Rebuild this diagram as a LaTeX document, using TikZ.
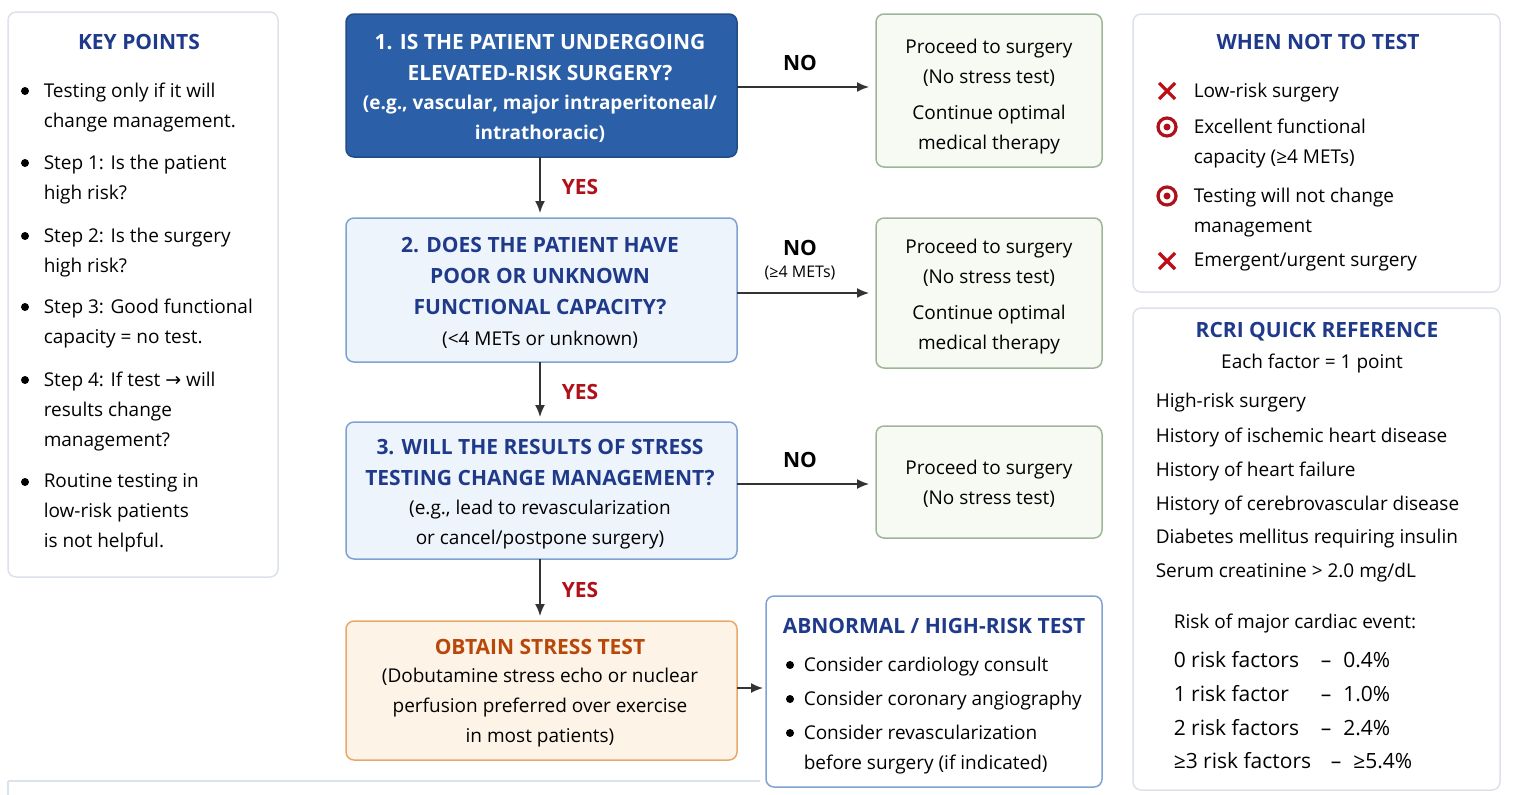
\documentclass[tikz,border=0pt]{standalone}
\usepackage{fontspec}
\setmainfont{Open Sans}
\newfontfamily\symfont{DejaVu Sans}
\usetikzlibrary{positioning,arrows.meta}
\definecolor{navy}{HTML}{1F3A8A}
\definecolor{darkblue}{HTML}{2B5FA8}
\definecolor{lightblue}{HTML}{EEF4FC}
\definecolor{blueline}{HTML}{7FA2D2}
\definecolor{greenfill}{HTML}{F6FAF3}
\definecolor{greenline}{HTML}{9FB59A}
\definecolor{orangefill}{HTML}{FDF3E6}
\definecolor{orangeline}{HTML}{E8A868}
\definecolor{orangetext}{HTML}{B8480A}
\definecolor{grayline}{HTML}{DCE2EA}
\definecolor{yesred}{HTML}{B0101A}
\tikzset{every picture/.style={line width=0.75pt}}
\tikzset{
  box/.style={draw, rounded corners=4pt, inner sep=0pt},
  qbox/.style={box, draw=blueline, fill=lightblue},
  gbox/.style={box, draw=greenline, fill=greenfill},
  side/.style={box, draw=grayline, fill=white},
  txt/.style={inner sep=0pt, align=center, font=\fontsize{9.5}{15}\selectfont},
  ltxt/.style={inner sep=0pt, align=left, anchor=west, font=\fontsize{9.5}{15}\selectfont},
  ttl/.style={inner sep=0pt, align=center, font=\fontsize{10.5}{15.5}\selectfont\bfseries},
  flow/.style={-{Latex[length=6pt,width=5pt]}, line width=0.8pt, draw=black!80},
  yes/.style={inner sep=0pt, text=yesred, font=\fontsize{10.5}{12}\selectfont\bfseries},
  no/.style={inner sep=0pt, font=\fontsize{10.5}{12}\selectfont\bfseries},
}
\begin{document}
\begin{tikzpicture}[x=0.5pt,y=-0.5pt]
\useasboundingbox (0,0) rectangle (1518,794);

% side panels
\draw [side] (8,12) rectangle (278,577);
\draw [side] (1133,14) rectangle (1500,292);
\draw [side] (1133,308) rectangle (1500,790);
\draw [side] (8,781) -- (8,800) (8,781) -- (760,781);

% flow boxes
\draw [box, draw=darkblue!80!black, fill=darkblue] (346,14) rectangle (737,157);
\draw [qbox] (346,218) rectangle (737,362);
\draw [qbox] (346,422) rectangle (737,559);
\draw [box, draw=orangeline, fill=orangefill] (346,621) rectangle (737,760);
\draw [box, draw=blueline, fill=white] (766,596) rectangle (1102,787);
\draw [gbox] (876,14) rectangle (1102,167);
\draw [gbox] (876,218) rectangle (1102,368);
\draw [gbox] (876,426) rectangle (1102,538);

% anchor points
\coordinate (q1s) at (540,157); \coordinate (q2n) at (540,213);
\coordinate (q2s) at (540,362); \coordinate (q3n) at (540,417);
\coordinate (q3s) at (540,559); \coordinate (q4n) at (540,616);
\coordinate (q1e) at (737,87);  \coordinate (p1w) at (869,87);
\coordinate (q2e) at (737,293); \coordinate (p2w) at (869,293);
\coordinate (q3e) at (737,484); \coordinate (p3w) at (869,484);
\coordinate (q4e) at (737,688); \coordinate (abw) at (763,688);

\draw [flow] (q1s) -- (q2n);
\draw [flow] (q2s) -- (q3n);
\draw [flow] (q3s) -- (q4n);
\draw [flow] (q1e) -- (p1w);
\draw [flow] (q2e) -- (p2w);
\draw [flow] (q3e) -- (p3w);
\draw [flow] (q4e) -- (abw);

\node [yes] (y1) at (580,187) {YES};
\node [yes] (y2) at (580,392) {YES};
\node [yes] (y3) at (580,590) {YES};
\node [no] (n1) at (800,63) {NO};
\node [no] (n2) at (800,248) {NO};
\node [txt, font=\fontsize{8}{10}\selectfont] (n2b) at (800,273) {(≥4 METs)};
\node [no] (n3) at (800,460) {NO};

% question texts
\node [ttl, text=white] (q1t) at (540,58) {1. IS THE PATIENT UNDERGOING\\ELEVATED-RISK SURGERY?};
\node [txt, text=white, font=\fontsize{9.5}{15}\selectfont\bfseries] (q1d) at (540,119) {(e.g., vascular, major intraperitoneal/\\intrathoracic)};
\node [ttl, text=navy] (q2t) at (540,276) {2. DOES THE PATIENT HAVE\\POOR OR UNKNOWN\\FUNCTIONAL CAPACITY?};
\node [txt] (q2d) at (540,340) {(<4 METs or unknown)};
\node [ttl, text=navy] (q3t) at (540,463) {3. WILL THE RESULTS OF STRESS\\TESTING CHANGE MANAGEMENT?};
\node [txt] (q3d) at (540,525) {(e.g., lead to revascularization\\or cancel/postpone surgery)};
\node [ttl, text=orangetext] (q4t) at (540,647) {OBTAIN STRESS TEST};
\node [txt] (q4d) at (540,708) {(Dobutamine stress echo or nuclear\\perfusion preferred over exercise\\in most patients)};

% proceed texts
\node [txt] (p1) at (989,97) {Proceed to surgery\\(No stress test)\\[3pt]Continue optimal\\medical therapy};
\node [txt] (p2) at (989,297) {Proceed to surgery\\(No stress test)\\[3pt]Continue optimal\\medical therapy};
\node [txt] (p3) at (989,484) {Proceed to surgery\\(No stress test)};

% abnormal test
\node [ttl, text=navy] (abt) at (934,626) {ABNORMAL / HIGH-RISK TEST};
\foreach \y/\t in {665/{Consider cardiology consult},699/{Consider coronary angiography},733/{Consider revascularization\\before surgery (if indicated)}}
  \node [ltxt, anchor=north west] at (803,\y-9) {\t};
\foreach \y in {665,699,733} \fill (790,\y) circle (2pt);

% key points
\node [ttl, text=navy] (kpt) at (139,42) {KEY POINTS};
\foreach \y/\t in {91/{Testing only if it will\\change management.},
  163/{Step 1: Is the patient\\high risk?},
  236/{Step 2: Is the surgery\\high risk?},
  307/{Step 3: Good functional\\capacity = no test.},
  380/{Step 4: If test {\symfont →} will\\results change\\management?},
  482/{Routine testing in\\low-risk patients\\is not helpful.}}
  {\node [ltxt, anchor=north west] at (43,\y-9) {\t};
   \fill (25,\y) circle (2pt);}

% when not to test
\node [ttl, text=navy] (wnt) at (1318,42) {WHEN NOT TO TEST};
\foreach \y/\t in {91/{Low-risk surgery},127/{Excellent functional\\capacity (≥4 METs)},196/{Testing will not change\\management},261/{Emergent/urgent surgery}}
  \node [ltxt, anchor=north west] at (1193,\y-9) {\t};
\foreach \y in {91,261}
  \draw [yesred!80!red, line width=1.6pt] (1159,\y-8) -- (1175,\y+8) (1159,\y+8) -- (1175,\y-8);
\foreach \y in {127,196}
  {\draw [yesred, line width=1.6pt] (1167,\y) circle (4.5pt);
   \fill [yesred] (1167,\y) circle (1.75pt);}

% rcri
\node [ttl, text=navy] (rct) at (1317,332) {RCRI QUICK REFERENCE};
\node [txt] (rcs) at (1312,364) {Each factor = 1 point};
\foreach \y/\t in {403/{High-risk surgery},437/{History of ischemic heart disease},471/{History of heart failure},505/{History of cerebrovascular disease},539/{Diabetes mellitus requiring insulin},573/{Serum creatinine > 2.0 mg/dL}}
  \node [ltxt] at (1155,\y) {\t};
\node [ltxt] (rk) at (1173,623) {Risk of major cardiac event:};
\foreach \y/\a/\d/\b in {660/{0 risk factors}/1320/{0.4\%},694/{1 risk factor}/1320/{1.0\%},728/{2 risk factors}/1320/{2.4\%},761/{≥3 risk factors}/1330/{≥5.4\%}}
  {\node [ltxt, font=\fontsize{10.5}{15}\selectfont] at (1173,\y) {\a};
   \node [ltxt, font=\fontsize{10.5}{15}\selectfont] at (\d,\y) {–\hspace{6pt}\b};}
\end{tikzpicture}
\end{document}
